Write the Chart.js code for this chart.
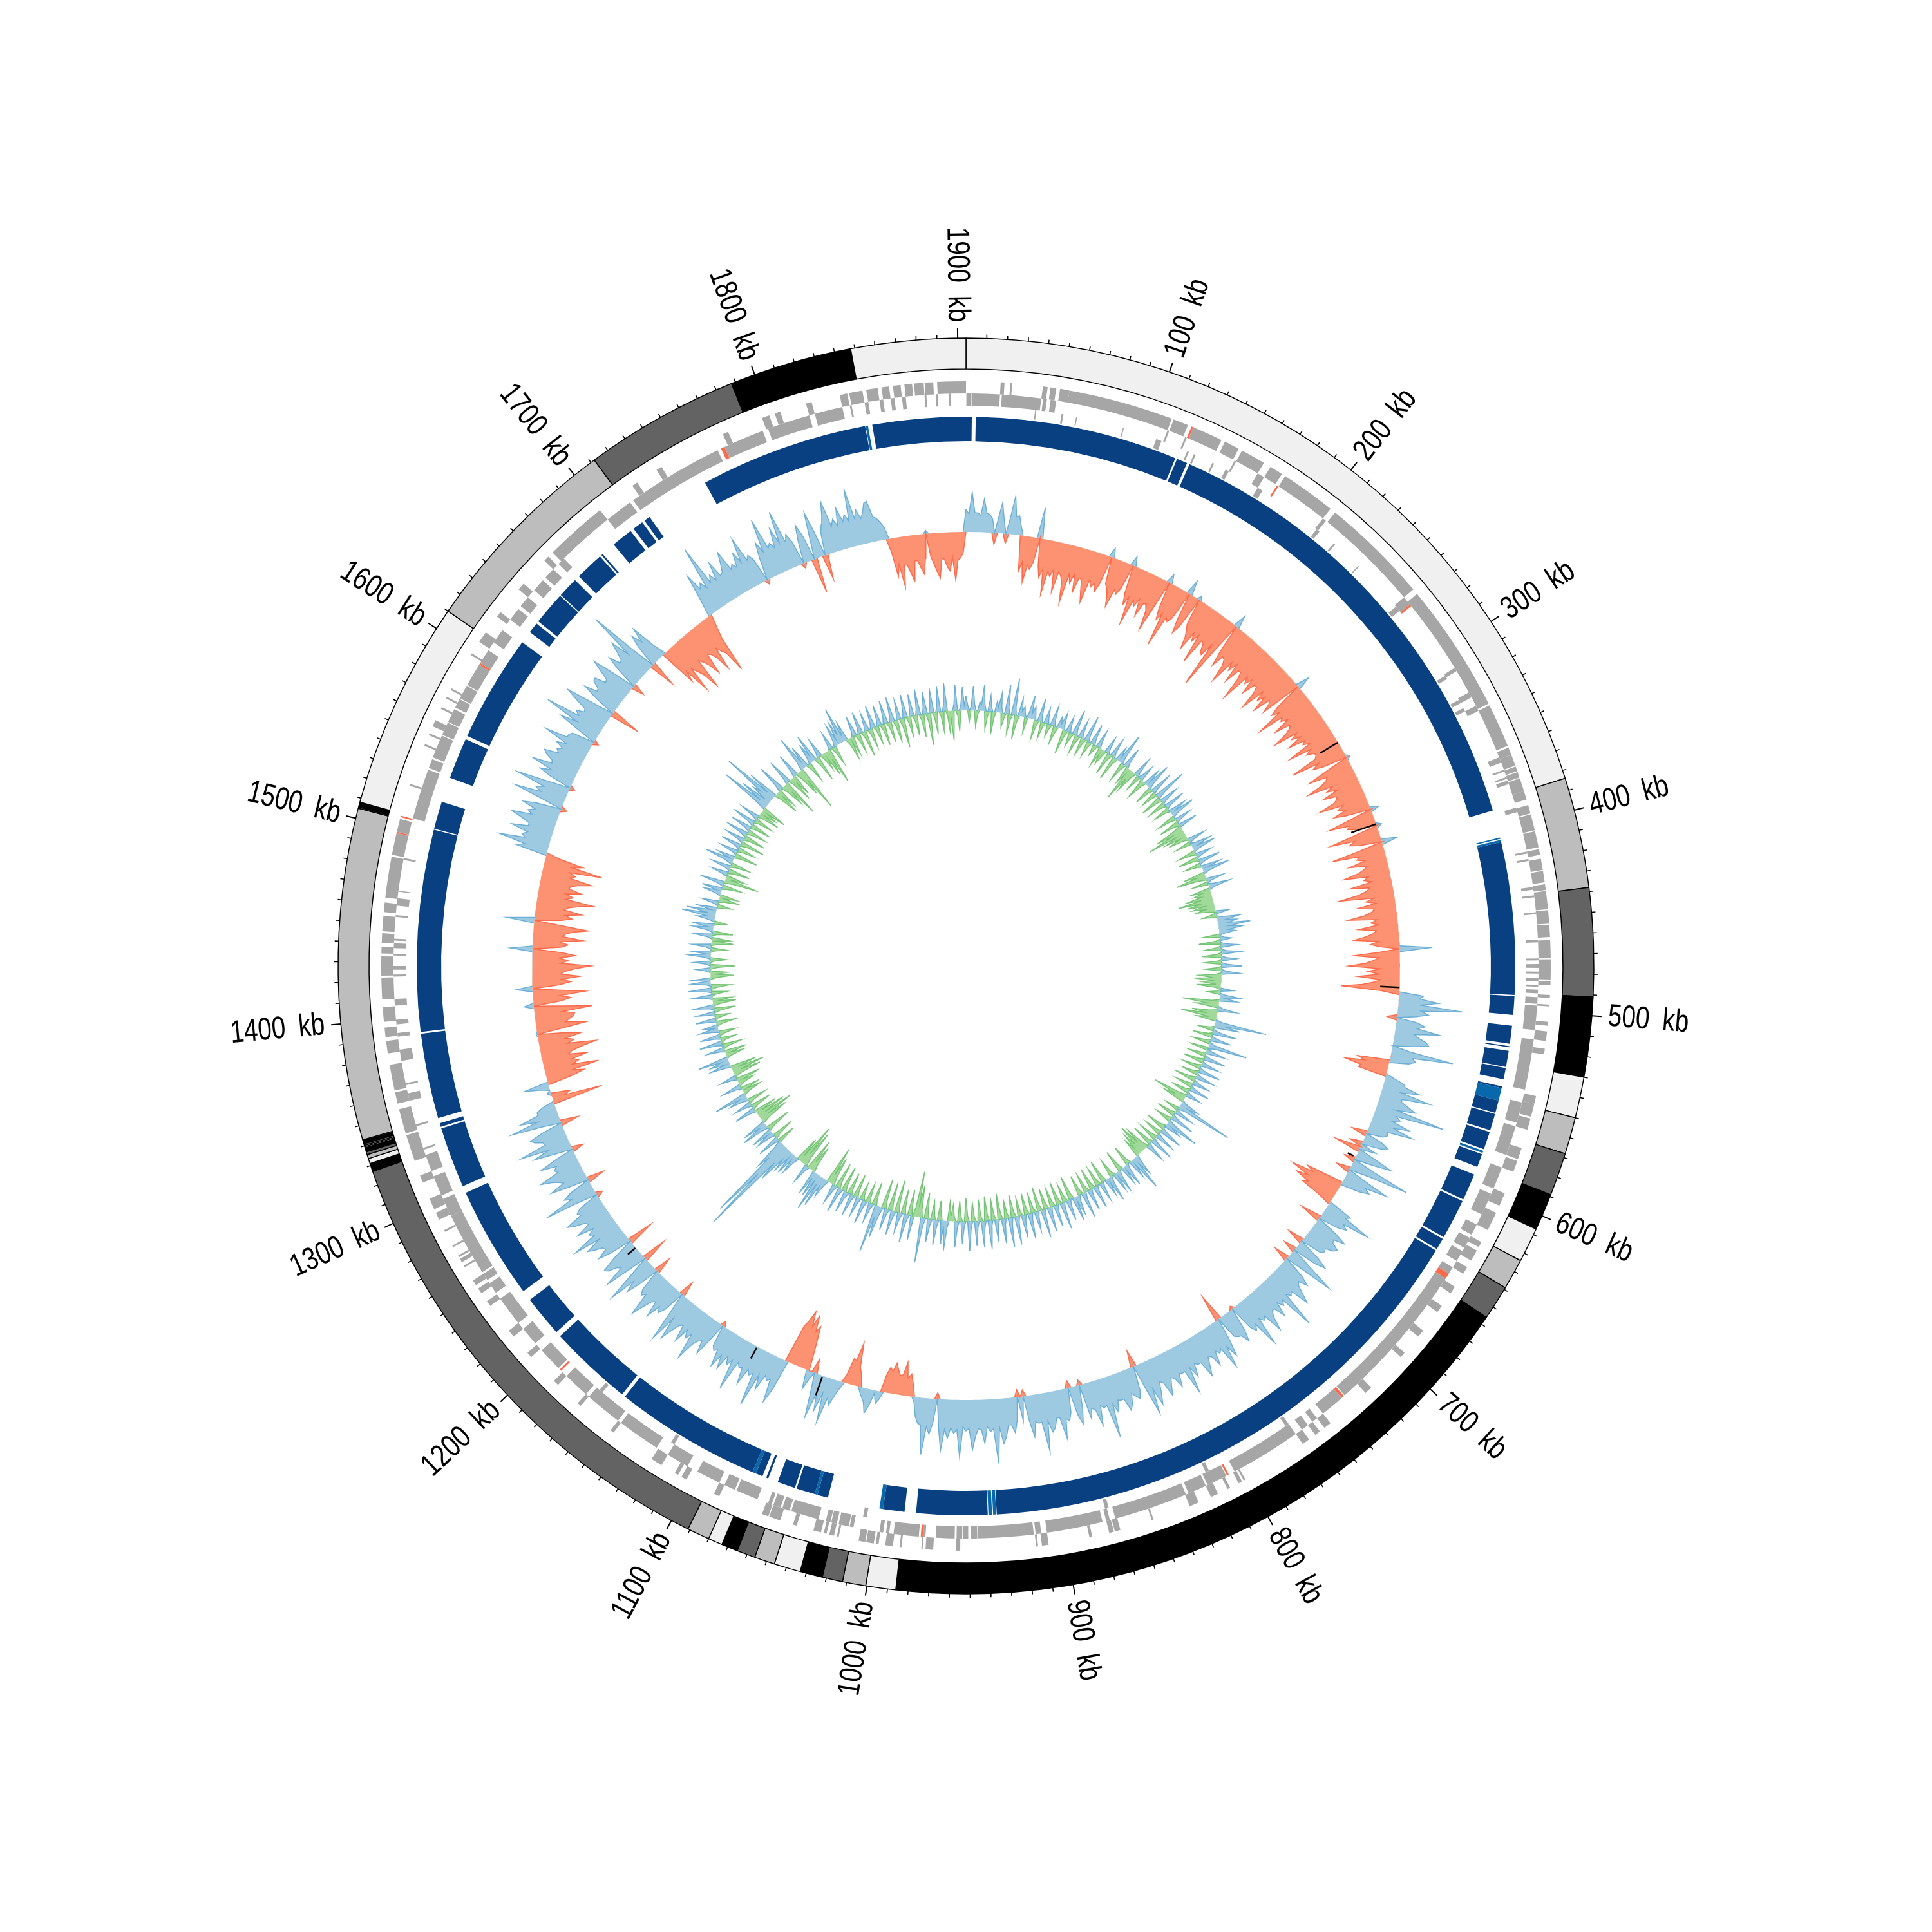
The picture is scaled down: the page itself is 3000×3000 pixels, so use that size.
<!DOCTYPE html>
<html><head><meta charset="utf-8">
<style>html,body{margin:0;padding:0;background:#fff}canvas{position:absolute;left:0;top:0}</style>
<script src="https://cdn.jsdelivr.net/npm/chart.js@4/dist/chart.umd.min.js"></script>
</head><body>
<canvas id="rings" width="3000" height="3000"></canvas>
<canvas id="tracks" width="3000" height="3000"></canvas>
<script>
const genomeKb = 1904;
const tickKb = [100,200,300,400,500,600,700,800,900,1000,1100,1200,1300,1400,1500,1600,1700,1800,1900];
const tickLabels = ["100 kb","200 kb","300 kb","400 kb","500 kb","600 kb","700 kb","800 kb","900 kb","1000 kb","1100 kb","1200 kb","1300 kb","1400 kb","1500 kb","1600 kb","1700 kb","1800 kb","1900 kb"];
const contigEnds = [384,438,491,530,550,568,589,607,624,639,656,986,1000.6,1012,1022,1033,1046,1056,1065,1073,1080,1091,1327,1331,1333.5,1335.5,1337,1339,1339.6,1340.2,1341,1342.5,1343,1505,1505.6,1506,1506.5,1507,1507.5,1508,1610,1712,1788,1848,1904];
const geneOuter = [[18,20],[23,24],[40,42.5],[44,47],[49,54],[54,109],[110,118],[121,137],[139,147],[149,162],[166,173],[175,204],[207,264],[267,335],[336,359],[360,364],[364,370],[370.5,373],[373.5,376.5],[377,384],[384,388.5],[391.5,396],[396.5,405],[405.5,414],[415,418],[420,426],[426.5,432.5],[433.5,436.5],[437,446.5],[447,454],[454.5,461],[462.5,472],[472.5,483],[484,486],[491,492.5],[496,497],[505,507],[510,515],[519,522],[544,548],[548,555],[556,562],[572,578],[579,585],[597,604],[608,618],[625,628],[630,636],[640,644],[652,656],[664,668],[680,684],[695,698],[720,724],[748,752],[755,758],[762,766],[801,802],[803,805],[810,811.5],[817,821],[828,833],[853,854],[871,874],[874.5,877],[886,887.5],[909,912.5],[914.5,915.5],[955,957.3],[969,973],[974.5,975.2],[985.5,986.5],[990,994],[997.5,999],[1000,1004],[1004.5,1008],[1018.5,1019.5],[1021,1023.5],[1025,1026.5],[1028,1032],[1041,1043],[1050,1056],[1056.5,1060],[1084,1087],[1103,1106],[1108,1110],[1118,1124],[1148,1150],[1170,1172],[1186,1189],[1206,1209],[1220,1224],[1240,1243],[1248,1251],[1253,1256],[1264,1265],[1267,1269],[1270,1271],[1276,1277],[1285,1286],[1292,1296],[1298,1304],[1313,1317],[1325,1339],[1340,1353],[1356,1362],[1363,1376.5],[1382.5,1389],[1391,1396],[1399,1406.7],[1410.6,1422],[1423,1433],[1434.5,1438],[1440,1445],[1446,1454],[1456,1461],[1463.5,1485],[1486,1497.5],[1498.2,1505],[1523,1524],[1545,1546],[1551,1552],[1556,1559.5],[1566,1567],[1572,1573],[1577,1578],[1598,1599],[1606,1612],[1622,1625],[1640,1644],[1660,1663],[1666,1699],[1720,1723],[1735,1738],[1774,1777],[1796,1800],[1803,1806],[1820,1823],[1838,1842],[1843,1850],[1852,1858],[1860,1864],[1866,1870],[1872,1876],[1877,1882],[1882.5,1887],[1889,1904]];
const geneInner = [[0.2,2.9],[3.2,18],[19,40],[41,43],[45,48],[109,110],[119,120],[148,149],[162,166],[204,206],[264,269],[310,312],[325,328],[333,336],[363,366],[370,371],[374,375],[376,378],[391,393.5],[415,416],[419,420],[434,435.5],[438.5,439.5],[447.5,448.5],[462,463.5],[472,473],[475,477],[479,480],[482.5,484],[486,487],[488.5,490.5],[492.5,496],[497,510],[515,542],[549,560],[562,578],[585,597],[600,612],[618,624],[626,632],[634,640],[644,648],[651,733],[735,748],[752,755],[758,762],[766,804],[809,820],[821,831],[832.5,872],[875,877],[879,909],[912,915],[916,945.5],[946,949.5],[950.8,953.5],[954,957],[958,968],[973.5,975],[977,990.5],[992.8,994.5],[996,998],[1012,1014],[1014.5,1020],[1021,1024],[1024.5,1027],[1031,1046],[1047,1051],[1052,1056],[1057,1059],[1065,1077],[1078,1084],[1087,1100],[1106,1118],[1125,1148],[1150,1170],[1172,1186],[1192,1205],[1210,1220],[1224,1240],[1244,1250],[1252,1256],[1257,1291],[1291,1301],[1303,1314],[1317,1326],[1329,1330],[1342,1343],[1356,1360],[1364.5,1365.5],[1377.5,1383.5],[1390.5,1392.5],[1397,1399.5],[1407,1410.5],[1422.4,1423.5],[1426,1428],[1433.5,1434.5],[1437.5,1440],[1441.5,1442.5],[1454,1455],[1460,1464],[1467.5,1468],[1484.5,1485.5],[1507,1534],[1535,1540],[1541,1553.5],[1554,1561],[1561.5,1569],[1570,1575],[1575.5,1583],[1583.5,1596],[1597,1605],[1610,1618],[1625,1632],[1634,1640],[1645,1652],[1654,1660],[1664,1668],[1699,1714],[1716,1768],[1772,1794],[1797,1820],[1823,1838],[1842,1843],[1850,1852],[1858,1860],[1864,1866],[1870,1872],[1882,1883],[1888,1889],[1895,1896]];
const geneSpur = [[37.5,38.2],[52,53],[60,60.6],[86,86.6],[105,108],[123,124],[127,128],[138,139],[146,148],[166,169],[205,207],[217,218],[235,235.6],[265,268],[311,313],[326,328],[331,333],[766,768],[816,818],[874,876],[1006,1008],[1118,1120],[1166,1168]];
const rnaOuter = [[120,121],[1497.5,1498.2],[1506,1506.8]];
const rnaInner = [[174,175],[269,270],[648,651],[733.5,735],[807.5,808.5],[975,976],[1190,1191],[1596,1597],[1770,1772]];
const blueDark = [[0,3.2],[5.4,118.5],[119.5,125.5],[127,389],[407,492],[492.6,503],[509,519],[520.4,521],[523,532],[532.6,539],[543,544],[551,558],[558.6,568],[569,579],[582,589.5],[594,609],[610,632.4],[633.5,640],[641,935],[940,979.6],[986,998],[1029,1035],[1036.5,1047],[1048,1058],[1063.6,1064.8],[1067,1071],[1073,1155],[1157,1204],[1207,1230],[1236,1299],[1303,1337],[1338,1340],[1343,1390.5],[1391.5,1504],[1504.6,1520],[1534,1557],[1559,1619],[1626,1632],[1633.5,1652],[1652.6,1664],[1667,1683],[1684,1685],[1693,1705],[1707,1713],[1714.5,1718],[1754,1848],[1852,1904]];
const blueLight = [[404.5,405.2],[405.8,407],[544,551],[580,581.2],[935.3,937],[937.6,939.6],[998,1000],[1035,1036.5],[1071,1073],[1848.3,1849.6]];
const skewValues = [35,28,62,30,30,26,52,30,28,22,-18,24,48,20,-15,26,60,28,30,14,-55,-40,-72,-44,-50,-38,48,-42,-60,-46,-85,-48,-55,-44,-78,-46,-50,-60,-92,-45,-58,-42,-70,-46,-48,-66,-82,-44,-55,-48,
-60,-44,15,-42,-48,-58,-75,-46,-52,-40,15,-44,-62,-48,-90,-50,-58,-44,-70,-48,-46,-56,-85,-46,14,-44,-60,-48,-100,-50,-55,-46,23,-44,-65,-50,6,-42,-50,-60,-78,-48,-60,-46,-92,-50,-52,-64,-68,-46,
-118,-52,20,-46,-70,-50,-52,-60,-88,-48,-60,-44,-75,-50,-50,-62,-95,-48,-58,-46,-70,-50,-48,-58,-85,-46,-62,-50,-76,-48,-52,-66,21,-46,-60,-48,-90,-50,-55,-44,-72,-48,-50,-60,-84,-46,-58,-44,-68,-42,
-48,-38,-78,-42,-52,-40,-40,-44,-86,-42,-55,-38,6,-40,-70,-42,-45,-56,-80,-40,-52,-36,-62,-42,-42,-50,-75,-38,-48,-36,-58,-40,13,-38,-72,-40,-45,-34,8,-38,-78,-40,-50,-36,25,-38,-82,-40,-45,-34,
-60,-32,-38,-48,-72,-34,-42,-30,-65,-36,-40,-54,-85,-32,-45,-30,-60,-34,-38,-50,-76,-32,-42,-30,-62,-34,-40,-52,-70,-32,-45,-30,50,-34,-72,-32,-42,-54,-80,-30,-50,-32,-66,-30,-40,-58,-90,-28,38,32,
62,34,100,36,48,30,-16,32,45,34,68,30,38,50,55,32,1,30,97,34,40,30,-50,-38,-68,-42,-45,14,30,34,58,30,77,34,35,48,60,30,109,34,42,30,60,36,69,30,32,26,-24,28,
40,30,-20,26,-41,30,58,32,-17,36,95,34,-22,30,70,36,45,30,-60,-48,-82,-52,-70,-46,-55,-20,40,34,78,36,45,32,-33,34,55,38,40,52,48,36,38,34,-26,36,55,38,-20,36,80,38,
-24,36,52,38,42,56,70,40,45,38,94,40,48,38,60,42,42,52,72,40,45,38,82,42,50,40,-5,38,55,42,40,36,-42,38,62,42,76,40,45,38,60,42,40,54,68,42,42,38,58,40,
80,42,42,40,60,44,40,52,66,42,38,56,72,44,82,42,-26,38,50,44,38,54,62,42,42,40,58,44,95,42,45,40,70,44,40,56,-8,38,60,44,-12,38,50,46,76,42,42,56,62,44,
91,44,45,42,65,40,-10,38,-11,36,55,42,42,60,70,44,100,46,50,42,68,46,45,58,78,44,48,42,88,46,52,44,60,46,80,44,-10,38,55,44,87,42,40,30,8,-20,-35,-28,-52,-32,
-30,-38,-48,-34,-40,-28,12,20,5,25,38,22,15,8,-20,-30,-67,-38,-40,-12,10,24,40,30,71,26,55,28,69,30,-22,12,30,-40,-70,-60,-85,-66,-89,-72,-60,50,72,36,40,34,60,38,91,40,
45,38,65,40,42,36,84,38,48,36,60,40,62,36,40,34,-8,30,58,38,42,52,80,40,50,38,62,36,40,54,72,38,81,36,-24,34,46,38,60,36,40,56,74,38,44,36,-26,34,55,38,
79,36,-39,34,70,38,42,56,60,36,-42,34,55,38,40,52,62,36,78,38,45,34,60,36,40,56,66,38,42,34,-10,32,84,38,48,34,-27,32,60,36,42,52,68,36,40,34,58,34,-18,30,
61,34,79,36,38,50,55,34,-28,30,78,34,60,30,30,20,-79,-20,-30,6,1,14,39,-40,-60,-42,-85,-44,-55,-46,-70,-42,-48,-66,-88,-44,-55,-42,-66,-46,2,-44,-78,-46,-52,-60,-62,-44,-90,-46,
15,-44,-58,-42,-82,-44,26,-42,-60,-46,-75,-44,-52,-68,-92,-44,-56,-42,-68,-46,34,-44,-55,-42,-78,-46,-50,-62,-85,-44,43,-42,-58,-46,-72,-44,-50,-66,-88,-44,-55,-42,-66,-46,-48,-60,-80,-44,-52,-42,
-92,-44,-60,-20,50,36,79,40,45,38,65,40,40,54,72,40,48,38,60,40,-9,36,80,40,50,38,85,40,-8,36,55,38,72,42,44,56,62,40,45,38,51,36,75,40,40,36,-8,34,66,40,
96,42,50,38,40,60,79,38,-47,36,60,40,42,54,55,38,40,56,72,38,-19,36,58,40,42,54,70,40,113,42,-41,36,55,38,61,20,-60,-44,-85,-46,-55,-66,-92,-44,-50,-60,-78,-46,-48,-58,
-82,-46,-55,-62,-96,-40,-20,30,70,42,50,38,106,42,52,40,68,42,45,58,75,42,48,40,62,44,82,42,48,38,-7,36,60,42,94,44,50,40,70,44,94,42,52,38,-8,36,60,40,-54,36,
73,40,-39,36,48,60,81,40,50,38,65,42,52,40,90,42,55,40,48,62,64,38,35,28,20,-20,-60,-42,-78,-44,-45,-58,-72,-40,-40,-52,-62,-38,5,-36,-48,-60,-70,-40,-42,-54,-60,-38,-75,-44,-40,-32];
const innerValues = [22,8,-18,6,38,10,-25,-6,14,9,40,10,-28,-8,25,7,-35,-9,18,8,30,7,-22,-8,45,10,-30,-8,57,12,-38,-9,28,8,16,6,-24,7,36,9,20,8,-30,-9,35,8,-26,-7,24,8,
-20,-7,30,8,-28,-10,18,7,26,8,-39,-12,24,7,-22,-8,40,9,-30,-10,28,7,-28,-9,40,10,-25,-8,32,9,-18,-8,28,8,-30,-10,-24,-9,26,7,-35,-10,30,8,-38,-9,22,8,49,10,
-30,-9,32,8,-28,-12,-55,-14,-35,-8,30,8,-25,7,25,-8,-32,-8,28,9,42,10,-30,-7,36,8,-26,-8,52,12,-34,-8,30,9,-28,-8,34,7,-26,-6,28,9,39,9,-30,-8,26,7,-32,-8,
30,-12,-45,-16,-61,-14,-35,-12,-30,-8,28,7,-25,6,32,9,37,8,-28,-7,26,8,-32,-8,34,9,-26,-7,30,8,43,10,-34,-12,-48,-14,28,6,-25,7,34,8,-30,-14,-28,-16,-40,-18,-55,-18,
-42,-16,-35,-14,-30,-10,20,-6,-22,7,35,14,30,16,50,16,38,14,25,6,-28,6,18,-7,-34,7,26,-6,-24,8,30,-7,-30,7,24,-6,-28,8,32,-6,-26,7,28,-9,-35,-14,-42,-14,-30,-8,
-38,-8,20,-6,-20,8,35,10,28,-12,-57,-16,-35,7,30,-12,-40,-16,-56,-12,-30,10,81,16,40,-6,-24,9,38,-6,-30,8,32,-7,-28,9,61,10,-30,8,30,-7,-28,8,34,-7,-32,7,28,-8,
-30,8,34,-6,-26,8,30,-8,-34,7,26,-7,-28,8,32,-7,-30,6,24,-14,-54,-16,-35,7,30,14,89,10,-22,7,30,-7,-30,9,38,-6,-26,12,53,10,26,-8,-32,9,36,-7,-28,8,30,-8,
-30,9,38,-7,-34,8,30,-12,-38,-16,-48,-16,-36,-12,-30,8,32,12,55,10,30,-8,-32,9,36,8,28,-8,-34,9,34,8,30,-7,-28,10,40,8,28,-9,-36,8,30,-8,-30,9,36,-8,-34,9,
34,-8,-30,10,40,-8,-32,8,30,9,38,-9,-38,8,32,-7,-28,10,42,-9,-36,8,34,-8,-30,10,38,-8,-32,10,44,-9,-38,8,30,-8,-30,10,40,-8,-34,9,36,-7,-28,10,44,-9,-36,10,
46,-7,-28,9,38,-10,-40,8,34,-8,-30,10,44,-9,-38,10,40,-8,-34,9,38,-8,-30,11,46,-9,-36,8,34,-8,-32,10,40,-7,-26,-9,-34,11,46,9,36,-8,-30,10,40,-7,-28,9,36,-9,
-40,12,70,-12,-50,-16,-71,-14,38,-10,-40,11,44,-9,-38,8,30,-12,-50,9,38,-11,-44,8,34,-11,-46,12,50,18,76,-9,-36,8,30,-8,-30,9,38,-7,-26,8,30,-9,-36,8,34,-8,-34,8,
34,-10,-40,10,40,-10,-40,8,30,-11,-44,-15,-60,8,30,14,50,14,60,10,40,10,40,-10,-42,-14,-50,8,30,-14,-58,-18,-66,-10,-40,8,30,9,36,9,36,18,60,30,160,60,139,30,50,14,
-30,9,36,-8,-34,8,30,9,34,-10,-40,11,44,10,38,-12,-46,-15,-58,-12,-48,-9,-36,9,34,-8,-32,7,28,-8,-30,8,30,13,52,-8,-30,-7,-28,8,30,-7,-26,-10,-38,7,26,-11,-44,-13,
-52,-10,-40,8,32,8,30,12,48,-7,-28,-9,-34,7,28,-8,-30,9,36,-6,-24,8,32,-7,-26,8,30,6,24,-8,-30,8,32,-6,-22,7,28,-9,-34,8,30,-9,-36,-8,-30,8,30,-6,-24,9,
36,-8,-30,8,30,7,28,-9,-36,-7,-28,6,22,-10,-38,7,26,-7,-26,9,34,7,28,-6,-24,8,30,-9,-34,-7,-28,7,28,-8,-32,8,32,9,34,-5,-20,7,28,13,53,12,46,8,30,-6,
-22,7,26,-8,-30,-7,-28,7,28,8,32,-8,-30,10,39,-14,-54,-8,-30,7,26,-9,-34,8,30,-8,-30,11,45,7,28,-9,-36,7,28,-7,-28,8,32,-10,-38,8,30,-9,-34,9,36,-8,-30,9,
34,-8,-32,10,38,-7,-28,8,30,-9,-34,-7,-26,-10,-39,20,79,14,50,9,34,22,90,13,50,-10,-40,-8,-30,11,44,-9,-36,-15,-60,10,40,-10,-40,-9,-34,10,38,-11,-42,-18,-72,14,56,9,
36,-8,-30,8,30,11,44,-10,-40,8,30,-7,-28,-10,-40,-14,-56,7,28,-8,-30,9,34,9,36,14,57,8,30,-9,-34,-8,-30,8,32,-8,-30,9,34,-10,-41,7,28,-8,-30,9,36,-7,-28,8,
32,-9,-34,9,36,-8,-32,10,38,-9,-36,8,30,-12,-46,9,36,-8,-30,9,34,-8,-32,10,40,-9,-36,9,34,-12,-50,10,38,-9,-34,10,40,-8,-30,11,44,-9,-36,-11,-45,10,40,-8,-32,9,36,8];
const blackKb = [312,375,491,614,1054,1104,1214];
const blackFrom = [-32,-41,-30,-14,2,2,1];
const blackTo = [0,0,0,-4,32,21,16];

const TAU = 2*Math.PI;
const polar = (kb,r)=>({x:r*Math.sin(kb/genomeKb*TAU), y:r*Math.cos(kb/genomeKb*TAU)});
const GREY=['#f0f0f0','#bdbdbd','#636363','#000000'];
function ring(groups){
  const all=[];
  groups.forEach(([list,color])=>list.forEach(([s,e])=>all.push([s,e,color])));
  all.sort((a,b)=>a[0]-b[0]);
  const data=[],colors=[];
  let cur=0;
  all.forEach(([s,e,c])=>{
    s=Math.max(s,cur); if(e<=s) return;
    if(s>cur){data.push(s-cur);colors.push('rgba(0,0,0,0)');}
    data.push(e-s);colors.push(c);cur=e;
  });
  if(cur<genomeKb){data.push(genomeKb-cur);colors.push('rgba(0,0,0,0)');}
  return {data,backgroundColor:colors,borderWidth:0};
}
const contigData=contigEnds.map((e,i)=>e-(i?contigEnds[i-1]:0));
const contigColors=contigEnds.map((e,i)=>GREY[i%4]);
const GENE='#a6a6a6',RNA='#fb6a4a';
new Chart(document.getElementById('rings'),{
  type:'doughnut',
  data:{datasets:[
    {data:contigData,backgroundColor:contigColors,borderColor:'#000',borderWidth:1.5,weight:48},
    {data:[genomeKb],backgroundColor:['rgba(0,0,0,0)'],borderWidth:0,weight:19},
    {...ring([[geneOuter,GENE],[rnaOuter,RNA]]),weight:19},
    {...ring([[geneInner,GENE],[rnaInner,RNA]]),weight:19},
    {...ring([[geneSpur,GENE]]),weight:15},
    {data:[genomeKb],backgroundColor:['rgba(0,0,0,0)'],borderWidth:0,weight:2},
    {...ring([[blueDark,'#084081'],[blueLight,'#0868ac']]),weight:38}
  ]},
  options:{responsive:false,animation:false,devicePixelRatio:1,radius:975,cutout:(815/975*100)+'%',
    layout:{padding:0},plugins:{legend:{display:false},tooltip:{enabled:false}}}
});

function bandShape(values,sign,base){
  const pts=[],n=values.length,step=genomeKb/n;
  for(let i=0;i<=n;i++){const v=values[i%n];pts.push(polar(i*step,base+(v*sign>0?v:0)));}
  for(let i=n;i>=0;i--)pts.push(polar(i*step,base));
  return pts;
}
function bandEdge(values,sign,base){
  const pts=[],n=values.length,step=genomeKb/n;
  for(let i=0;i<=n;i++){
    const v=values[i%n],a=values[(i-1+n)%n],b=values[(i+1)%n];
    if(v*sign>0)pts.push(polar(i*step,base+v));
    else if(a*sign>0||b*sign>0)pts.push(polar(i*step,base));
    else pts.push({x:NaN,y:NaN});
  }
  return pts;
}
const shape=(d,c)=>({data:d,showLine:true,fill:'shape',backgroundColor:c,borderWidth:0,borderColor:c,pointRadius:0,tension:0});
const edge=(d,c,w)=>({data:d,showLine:true,fill:false,borderColor:c,borderWidth:w,pointRadius:0,tension:0,spanGaps:false});
const SKEW_BASE=674,INNER_BASE=397;
const minorTicks=[],majorTicks=[];
for(let kb=10;kb<genomeKb;kb+=10){
  if(kb%100===0)continue;
  minorTicks.push(polar(kb,975),polar(kb,981),{x:NaN,y:NaN});
}
tickKb.forEach(kb=>majorTicks.push(polar(kb,975),polar(kb,990),{x:NaN,y:NaN}));
const blackMarks=[];
blackKb.forEach((kb,i)=>blackMarks.push(polar(kb,SKEW_BASE+blackFrom[i]),polar(kb,SKEW_BASE+blackTo[i]),{x:NaN,y:NaN}));
const labelPlugin={id:'tickText',afterDatasetsDraw(chart){
  const c=chart.ctx,sx=chart.scales.x,sy=chart.scales.y;
  c.save();
  c.fillStyle='#000';
  c.font='49px "Liberation Sans",sans-serif';
  c.wordSpacing='12px';
  c.textBaseline='middle';
  tickKb.forEach((kb,i)=>{
    const p=polar(kb,1000),deg=kb/genomeKb*360;
    c.save();
    c.translate(sx.getPixelForValue(p.x),sy.getPixelForValue(p.y));
    if(deg<180){c.rotate((deg-90)*Math.PI/180);c.textAlign='left';}
    else{c.rotate((deg+90)*Math.PI/180);c.textAlign='right';}
    c.scale(0.79,1);
    c.fillText(tickLabels[i],0,0);
    c.restore();
  });
  c.restore();
}};
new Chart(document.getElementById('tracks'),{
  type:'scatter',
  data:{datasets:[
    edge(blackMarks,'#000',2.5),
    edge(majorTicks,'#000',2),
    edge(minorTicks,'#000',1.6),
    edge(bandEdge(skewValues,-1,SKEW_BASE),'#fb6a4a',1.5),
    edge(bandEdge(skewValues,1,SKEW_BASE),'#6baed6',1.5),
    edge(bandEdge(innerValues,-1,INNER_BASE),'#74c476',1.5),
    edge(bandEdge(innerValues,1,INNER_BASE),'#6baed6',1.5),
    shape(bandShape(skewValues,-1,SKEW_BASE),'#fc9272'),
    shape(bandShape(skewValues,1,SKEW_BASE),'#9ecae1'),
    shape(bandShape(innerValues,-1,INNER_BASE),'#a1d99b'),
    shape(bandShape(innerValues,1,INNER_BASE),'#9ecae1')
  ]},
  options:{responsive:false,animation:false,devicePixelRatio:1,layout:{padding:0},
    scales:{x:{type:'linear',min:-1500,max:1500,display:false},y:{type:'linear',min:-1500,max:1500,display:false}},
    plugins:{legend:{display:false},tooltip:{enabled:false}}},
  plugins:[labelPlugin]
});
</script>
</body></html>
